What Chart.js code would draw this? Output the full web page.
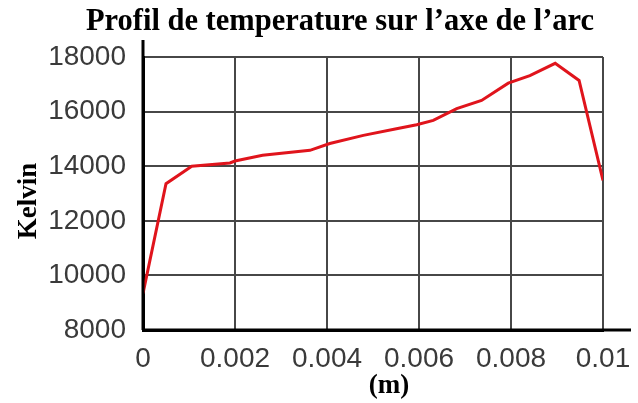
<!DOCTYPE html>
<html>
<head>
<meta charset="utf-8">
<script src="https://cdn.jsdelivr.net/npm/chart.js@4/dist/chart.umd.min.js"></script>
<style>
html,body{margin:0;padding:0;background:#fff;}
#wrap{width:638px;height:403px;}
</style>
</head>
<body>
<div id="wrap"><canvas id="c" width="638" height="403"></canvas></div>
<script>
const titleText = "Profil de temperature sur l\u2019axe de l\u2019arc";
const xTitle = "(m)";
const yTitle = "Kelvin";
const positions = [0, 0.0005, 0.00106, 0.00189, 0.002, 0.0026, 0.00363, 0.00406, 0.00479, 0.00551, 0.00595, 0.00631, 0.00682, 0.00736, 0.00794, 0.00841, 0.00896, 0.00948, 0.01];
const temperatures = [9340, 13360, 14000, 14120, 14190, 14400, 14580, 14830, 15130, 15370, 15520, 15680, 16110, 16410, 17040, 17320, 17770, 17140, 13480];
const xTickLabels = ["0", "0.002", "0.004", "0.006", "0.008", "0.01"];
const yTickLabels = ["8000", "10000", "12000", "14000", "16000", "18000"];

const points = positions.map((p, i) => ({x: p, y: temperatures[i]}));

const textPlugin = {
  id: 'texts',
  afterDraw(chart) {
    const ctx = chart.ctx;
    const a = chart.chartArea;
    ctx.save();
    ctx.strokeStyle = '#000';
    ctx.lineWidth = 3;
    ctx.beginPath();
    ctx.moveTo(a.left, a.bottom);
    ctx.lineTo(a.right + 28, a.bottom);
    ctx.moveTo(a.left, a.bottom);
    ctx.lineTo(a.left, a.top - 17);
    ctx.stroke();
    ctx.fillStyle = '#000';
    ctx.textAlign = 'center';
    ctx.textBaseline = 'middle';
    ctx.font = 'bold 30.5px "Liberation Serif", "Times New Roman", serif';
    ctx.fillText(titleText, 340, 22);
    ctx.font = 'bold 27px "Liberation Serif", "Times New Roman", serif';
    ctx.fillText(xTitle, 389, 386);
    ctx.translate(29, 201);
    ctx.rotate(-Math.PI / 2);
    ctx.fillText(yTitle, 0, 0);
    ctx.restore();
  }
};

new Chart(document.getElementById('c'), {
  type: 'line',
  data: {
    datasets: [{
      data: points,
      borderColor: '#e0141c',
      borderWidth: 3,
      pointRadius: 0,
      tension: 0,
      fill: false
    }]
  },
  options: {
    responsive: false,
    animation: false,
    layout: {padding: {top: 57, right: 35, left: 0, bottom: 0}},
    plugins: {legend: {display: false}, title: {display: false}, tooltip: {enabled: false}},
    scales: {
      x: {
        type: 'linear',
        min: 0, max: 0.01,
        afterFit(s) { s.height = 73; s.paddingLeft = 0; s.paddingRight = 0; },
        afterBuildTicks(s) { s.ticks = xTickLabels.map(v => ({value: parseFloat(v)})); },
        ticks: {
          callback: (v, i) => xTickLabels[i],
          font: {family: '"Liberation Sans", Arial, sans-serif', size: 28},
          color: '#3a3a3a',
          padding: 12,
          maxRotation: 0,
          autoSkip: false
        },
        grid: {color: '#474747', lineWidth: 2, drawTicks: false},
        border: {color: '#000', width: 3}
      },
      y: {
        min: 8000, max: 18000,
        afterFit(s) { s.width = 143; s.paddingTop = 0; s.paddingBottom = 0; },
        afterBuildTicks(s) { s.ticks = yTickLabels.map(v => ({value: parseFloat(v)})); },
        ticks: {
          callback: (v, i) => yTickLabels[i],
          font: {family: '"Liberation Sans", Arial, sans-serif', size: 28},
          color: '#3a3a3a',
          padding: 17,
          autoSkip: false
        },
        grid: {color: '#474747', lineWidth: 2, drawTicks: false},
        border: {color: '#000', width: 3}
      }
    }
  },
  plugins: [textPlugin]
});
</script>
</body>
</html>
